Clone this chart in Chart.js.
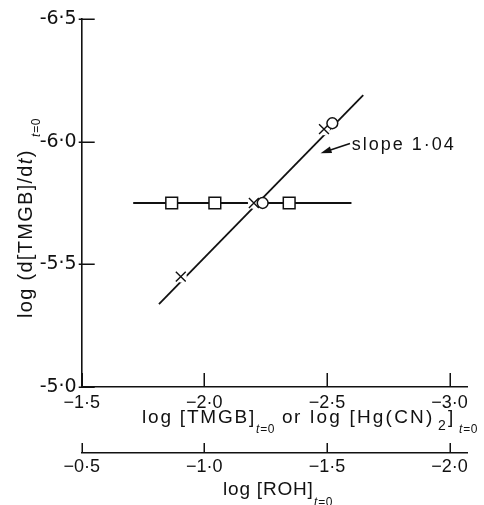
<!DOCTYPE html>
<html>
<head>
<meta charset="utf-8">
<script src="https://cdn.jsdelivr.net/npm/chart.js@4.4.0/dist/chart.umd.min.js"></script>
<style>
  html, body { margin: 0; padding: 0; background: #fff; }
  canvas { display: block; }
</style>
</head>
<body>
<canvas id="grafico" width="484" height="505"></canvas>
<script>
// values
const squareX = [-1.867, -2.043, -2.346];
const squareY = [-5.75, -5.75, -5.75];
const circleX = [-2.238, -2.522];
const circleY = [-5.75, -6.075];
const crossX = [-1.904, -2.202, -2.488];
const crossY = [-5.45, -5.75, -6.051];
const flatLineX = [-1.71, -2.60];
const flatLineY = [-5.75, -5.75];
const slopeLineX = [-1.815, -2.648];
const slopeLineY = [-5.338, -6.19];

const xTicks = [-1.5, -2.0, -2.5, -3.0];
const rohTicks = [-0.5, -1.0, -1.5, -2.0];
const yTicks = [-5.0, -5.5, -6.0, -6.5];

const ink = '#111';
const fam = "'Liberation Sans', Arial, sans-serif";

const pts = (xs, ys) => xs.map((x, i) => ({ x, y: ys[i] }));
const fixTicks = list => s => { s.ticks = list.map(v => ({ value: v })); };
const fmt = (sign) => v => sign + Math.abs(v).toFixed(1).replace('.', '·');
const noPad = s => { s.paddingLeft = s.paddingRight = s.paddingTop = s.paddingBottom = 0; };

// tick marks point into the plot, as in the printed figure
const inwardTicks = {
  id: 'inwardTicks',
  afterDraw(chart) {
    const { ctx, scales } = chart;
    const len = { x: 14, x2: 10, y: 13 };
    ctx.save();
    ctx.strokeStyle = ink;
    ctx.lineWidth = 1.5;
    ctx.beginPath();
    Object.keys(len).forEach(id => {
      const s = scales[id];
      s.ticks.forEach(t => {
        const p = Math.round(s.getPixelForValue(t.value)) + 0.25;
        if (id === 'y') {
          ctx.moveTo(s.right - 3, p);
          ctx.lineTo(s.right + len[id], p);
        } else {
          ctx.moveTo(p, s.top);
          ctx.lineTo(p, s.top - len[id]);
        }
      });
    });
    ctx.stroke();
    ctx.restore();
  }
};

// titles, subscripts and the slope note
const texts = {
  id: 'texts',
  afterDraw(chart) {
    const { ctx, scales } = chart;
    const put = (t, x, y, font, sp) => {
      ctx.font = font + ' ' + fam;
      ctx.letterSpacing = (sp || 0) + 'px';
      ctx.fillText(t, x, y);
      return x + ctx.measureText(t).width;
    };
    const sub = (x, y) => {
      const nx = put('t', x, y, 'italic 12px', 0.5);
      put('=0', nx + 0.5, y, '12px', 0.5);
    };

    ctx.save();
    ctx.fillStyle = ink;
    ctx.textAlign = 'left';
    ctx.textBaseline = 'alphabetic';

    // x title
    const b1 = scales.x.top + 36;
    put('log [TMGB]', 142, b1, '19px', 1.8);
    sub(256, b1 + 10);
    put('or', 282, b1, '19px', 1.5);
    put('log [Hg(CN)', 310, b1, '19px', 2.2);
    put('2', 438, b1 + 7, '14px');
    put(']', 448, b1, '19px');
    sub(459, b1 + 10);

    // ROH title
    const b2 = scales.x2.top + 42;
    put('log [ROH]', 223, b2, '19px', 0.8);
    sub(314, b2 + 11);

    // y title
    ctx.save();
    ctx.translate(32, 318);
    ctx.rotate(-Math.PI / 2);
    let nx = put('log (d[TMGB]/d', 0, 0, '20px', 1.3);
    nx = put('t', nx, 0, 'italic 20px', 1.3);
    put(')', nx, 0, '20px', 0);
    sub(181, 8);
    ctx.restore();

    // slope note with arrow
    const x = scales.x, y = scales.y;
    put('slope 1·04', x.getPixelForValue(-2.601), y.getPixelForValue(-5.965), '18px', 2);
    const x0 = x.getPixelForValue(-2.594), y0 = y.getPixelForValue(-5.993);
    const x1 = x.getPixelForValue(-2.474), y1 = y.getPixelForValue(-5.953);
    const a = Math.atan2(y1 - y0, x1 - x0);
    ctx.strokeStyle = ink;
    ctx.lineWidth = 1.6;
    ctx.beginPath();
    ctx.moveTo(x0, y0);
    ctx.lineTo(x1 - 8 * Math.cos(a), y1 - 8 * Math.sin(a));
    ctx.stroke();
    ctx.beginPath();
    ctx.moveTo(x1, y1);
    ctx.lineTo(x1 - 11 * Math.cos(a) + 3.5 * Math.sin(a), y1 - 11 * Math.sin(a) - 3.5 * Math.cos(a));
    ctx.lineTo(x1 - 11 * Math.cos(a) - 3.5 * Math.sin(a), y1 - 11 * Math.sin(a) + 3.5 * Math.cos(a));
    ctx.closePath();
    ctx.fill();
    ctx.restore();
  }
};

Chart.defaults.font.family = fam;
Chart.defaults.color = ink;

new Chart(document.getElementById('grafico'), {
  type: 'scatter',
  data: {
    datasets: [
      { data: pts(flatLineX, flatLineY), showLine: true, pointRadius: 0, borderColor: ink, borderWidth: 1.8, order: 4 },
      { data: pts(slopeLineX, slopeLineY), showLine: true, pointRadius: 0, borderColor: ink, borderWidth: 1.8, order: 4 },
      { data: pts(crossX, crossY), pointStyle: 'circle', pointRadius: 6, backgroundColor: '#fff', borderWidth: 0, order: 3 },
      { data: pts(squareX, squareY), pointStyle: 'rect', pointRadius: 8.3, backgroundColor: '#fff', borderColor: ink, borderWidth: 1.5, order: 1 },
      { data: pts(circleX, circleY), pointStyle: 'circle', pointRadius: 5.4, backgroundColor: '#fff', borderColor: ink, borderWidth: 1.5, order: 1 },
      { data: pts(crossX, crossY), pointStyle: 'crossRot', pointRadius: 7, borderColor: ink, borderWidth: 1.4, order: 1 }
    ]
  },
  options: {
    responsive: false,
    animation: false,
    devicePixelRatio: 1,
    layout: { padding: { top: 19, right: 16.3, bottom: 0, left: 0 } },
    plugins: { legend: { display: false }, tooltip: { enabled: false } },
    scales: {
      x: {
        type: 'linear', position: 'bottom', weight: 0,
        reverse: true, min: -3.074, max: -1.5,
        afterBuildTicks: fixTicks(xTicks),
        afterFit: s => { s.height = 66; noPad(s); },
        grid: { drawOnChartArea: false, drawTicks: false },
        border: { color: ink, width: 1.6 },
        ticks: { padding: 5, font: { size: 18 }, color: ink, maxRotation: 0, callback: fmt('−') }
      },
      x2: {
        type: 'linear', position: 'bottom', weight: 1,
        reverse: true, min: -2.074, max: -0.5,
        afterBuildTicks: fixTicks(rohTicks),
        afterFit: s => { s.height = 52; noPad(s); },
        grid: { drawOnChartArea: false, drawTicks: false },
        border: { color: ink, width: 1.6 },
        ticks: { padding: 3, font: { size: 18 }, color: ink, maxRotation: 0, callback: fmt('−') }
      },
      y: {
        type: 'linear', position: 'left',
        reverse: true, min: -6.5, max: -5.0,
        afterBuildTicks: fixTicks(yTicks),
        afterFit: s => { s.width = 81.7; noPad(s); },
        grid: { drawOnChartArea: false, drawTicks: false },
        border: { color: ink, width: 1.6 },
        ticks: { padding: 5, font: { size: 19, family: "'DejaVu Sans', sans-serif" }, color: ink, callback: fmt('-') }
      }
    }
  },
  plugins: [inwardTicks, texts]
});
</script>
</body>
</html>
